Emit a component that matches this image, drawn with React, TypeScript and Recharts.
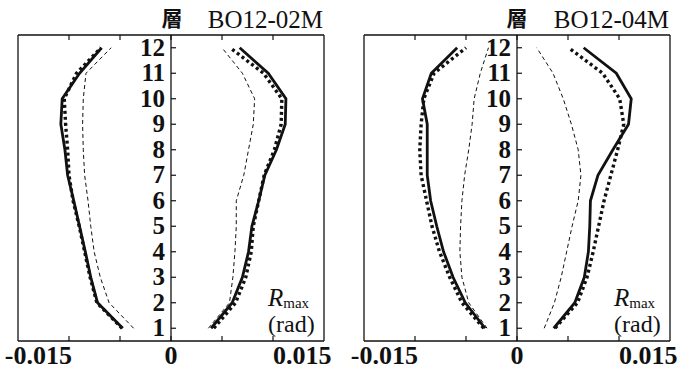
import React from "react";
import { LineChart, Line, XAxis, YAxis, ReferenceLine, ReferenceDot } from "recharts";

// Floors (層)
const floors = [1, 2, 3, 4, 5, 6, 7, 8, 9, 10, 11, 12];
const floorLabels = floors.map(String);

// x-axis ticks (rad)
const xTicks = [-0.015, -0.0075, 0, 0.0075, 0.015];
const xTickLabels = ["-0.015", "", "0", "", "0.015"];

// Panel titles
const panelTitles = ["BO12-02M", "BO12-04M"];

// ---- BO12-02M : values per floor 1..12 (rad) ----
const bo02SolidNeg = [-0.0071, -0.0108, -0.0118, -0.0126, -0.01345, -0.0143, -0.0152, -0.0156, -0.0162, -0.016, -0.01345, -0.0102];
const bo02DottedNeg = [-0.0072, -0.0109, -0.0119, -0.0127, -0.0135, -0.0144, -0.015, -0.0152, -0.0155, -0.0157, -0.0139, -0.0103];
const bo02DashedNeg = [-0.0055, -0.0091, -0.0104, -0.0113, -0.0118, -0.0122, -0.0127, -0.0129, -0.013, -0.0129, -0.0125, -0.0088];
const bo02SolidPos = [0.0059, 0.009, 0.0105, 0.0114, 0.0119, 0.0129, 0.0138, 0.0155, 0.0168, 0.0169, 0.0143, 0.0101];
const bo02DottedPos = [0.0063, 0.0095, 0.011, 0.0118, 0.0121, 0.0129, 0.0137, 0.0152, 0.0162, 0.0163, 0.0136, 0.0087];
const bo02DashedPos = [0.0055, 0.0086, 0.0091, 0.0094, 0.0096, 0.0096, 0.0107, 0.0114, 0.0121, 0.0123, 0.0105, 0.0075];

// ---- BO12-04M ----
const bo04SolidNeg = [-0.0047, -0.0076, -0.0094, -0.0108, -0.0118, -0.0127, -0.0132, -0.0132, -0.0132, -0.0139, -0.0126, -0.0088];
const bo04DottedNeg = [-0.0049, -0.0081, -0.0099, -0.0114, -0.0125, -0.0133, -0.0141, -0.0143, -0.0141, -0.0137, -0.0122, -0.0075];
const bo04DashedNeg = [-0.0044, -0.0071, -0.0081, -0.0084, -0.0083, -0.0081, -0.0077, -0.0071, -0.0066, -0.0063, -0.0054, -0.0042];
const bo04SolidPos = [0.0054, 0.0085, 0.0099, 0.0105, 0.0107, 0.0108, 0.0119, 0.0141, 0.0164, 0.0168, 0.0146, 0.0098];
const bo04DottedPos = [0.0056, 0.0089, 0.0103, 0.0112, 0.012, 0.0128, 0.0138, 0.0148, 0.0157, 0.0151, 0.0126, 0.0076];
const bo04DashedPos = [0.004, 0.0055, 0.0065, 0.0073, 0.0081, 0.009, 0.0094, 0.009, 0.008, 0.0068, 0.0053, 0.0029];

type SeriesSet = { [k: string]: number[] };

const panelSeries: SeriesSet[] = [
  {
    solidNeg: bo02SolidNeg, solidPos: bo02SolidPos,
    dottedNeg: bo02DottedNeg, dottedPos: bo02DottedPos,
    dashedNeg: bo02DashedNeg, dashedPos: bo02DashedPos,
  },
  {
    solidNeg: bo04SolidNeg, solidPos: bo04SolidPos,
    dottedNeg: bo04DottedNeg, dottedPos: bo04DottedPos,
    dashedNeg: bo04DashedNeg, dashedPos: bo04DashedPos,
  },
];

function buildRows(s: SeriesSet) {
  return floors.map((f, i) => {
    const row: any = { floor: f };
    Object.keys(s).forEach((k) => (row[k] = s[k][i]));
    return row;
  });
}

const X_DOMAIN: [number, number] = [-0.0225, 0.0225];
const Y_DOMAIN: [number, number] = [0.5, 12.5];
const INK = "#111";
const SERIF = "'Liberation Serif', 'Times New Roman', serif";

const lineStyles: { [k: string]: any } = {
  solid: { strokeWidth: 2.8 },
  dotted: { strokeWidth: 3.4, strokeDasharray: "3 3" },
  dashed: { strokeWidth: 1, strokeDasharray: "4 3" },
};

const BottomTick = (props: any) => {
  const { x, y, payload, index } = props;
  const v = payload.value;
  const label = xTickLabels[index] ?? "";
  const anchor = v < -1e-9 ? "end" : v > 1e-9 ? "start" : "middle";
  const tx = v < -1e-9 ? x + 3 : x;
  return (
    <g>
      <line x1={x} y1={y} x2={x} y2={y - 5} stroke={INK} strokeWidth={1.2} />
      {label && (
        <text x={tx} y={y + 23} textAnchor={anchor} fontFamily={SERIF} fontWeight="bold" fontSize={26} fill={INK}>
          {label}
        </text>
      )}
    </g>
  );
};

const TopTick = (props: any) => {
  const { x, y } = props;
  return <line x1={x} y1={y} x2={x} y2={y + 5} stroke={INK} strokeWidth={1.2} />;
};

const FloorMark = (props: any) => {
  const { cx, cy, label } = props;
  return (
    <g>
      <line x1={cx} y1={cy} x2={cx + 5} y2={cy} stroke={INK} strokeWidth={1.2} />
      <text x={cx - 6} y={cy + 8} textAnchor="end" fontFamily={SERIF} fontWeight="bold" fontSize={25} fill={INK}>
        {label}
      </text>
    </g>
  );
};

function Panel({ index, width, marginRight }: { index: number; width: number; marginRight: number }) {
  const rows = buildRows(panelSeries[index]);
  const keys = ["dashedNeg", "dashedPos", "dottedNeg", "dottedPos", "solidNeg", "solidPos"];
  return (
    <LineChart
      width={width}
      height={372}
      data={rows}
      layout="vertical"
      margin={{ top: 34, right: marginRight, bottom: 30, left: 17 }}
    >
      <XAxis
        xAxisId="top"
        orientation="top"
        type="number"
        domain={X_DOMAIN}
        allowDataOverflow
        ticks={xTicks}
        interval={0}
        height={1}
        tickSize={0}
        tickMargin={0}
        tickLine={false}
        tick={<TopTick />}
        axisLine={{ stroke: INK, strokeWidth: 1.3 }}
      />
      <XAxis
        orientation="bottom"
        type="number"
        domain={X_DOMAIN}
        allowDataOverflow
        ticks={xTicks}
        interval={0}
        height={1}
        tickSize={0}
        tickMargin={0}
        tickLine={false}
        tick={<BottomTick />}
        axisLine={{ stroke: INK, strokeWidth: 1.3 }}
      />
      <YAxis
        type="number"
        dataKey="floor"
        domain={Y_DOMAIN}
        allowDataOverflow
        reversed
        width={1}
        tick={false}
        tickLine={false}
        axisLine={{ stroke: INK, strokeWidth: 1.3 }}
      />
      <YAxis
        yAxisId="r"
        orientation="right"
        type="number"
        dataKey="floor"
        domain={Y_DOMAIN}
        allowDataOverflow
        reversed
        width={1}
        tick={false}
        tickLine={false}
        axisLine={{ stroke: INK, strokeWidth: 1.3 }}
      />
      <ReferenceLine x={0} stroke={INK} strokeWidth={1.3} />
      {floors.map((f, i) => (
        <ReferenceDot
          key={f}
          x={0}
          y={f}
          r={0}
          shape={(p: any) => <FloorMark {...p} label={floorLabels[i]} />}
        />
      ))}
      {keys.map((k) => (
        <Line
          key={k}
          dataKey={k}
          type="linear"
          stroke={INK}
          dot={false}
          activeDot={false}
          isAnimationActive={false}
          {...lineStyles[k.replace(/Neg|Pos/, "")]}
        />
      ))}
    </LineChart>
  );
}

function Labels({ zeroX, rightX, title }: { zeroX: number; rightX: number; title: string }) {
  return (
    <g>
      <text x={zeroX} y={26} textAnchor="middle" fontFamily="'Noto Sans CJK JP', 'Noto Sans CJK SC', sans-serif" fontWeight="bold" fontSize={21} fill={INK}>
        層
      </text>
      <text x={rightX - 1} y={27.5} textAnchor="end" fontFamily={SERIF} fontSize={25} fill={INK}>
        {title}
      </text>
      <text x={rightX - 56} y={305.5} fontFamily={SERIF} fill={INK}>
        <tspan fontStyle="italic" fontSize={25}>R</tspan>
        <tspan fontSize={15} dy={2}>max</tspan>
      </text>
      <text x={rightX - 56} y={331.5} fontFamily={SERIF} fontSize={24} fill={INK}>
        (rad)
      </text>
    </g>
  );
}

export default function App() {
  return (
    <div style={{ position: "absolute", left: 0, top: 0, width: 678, height: 372, background: "#fff", overflow: "hidden" }}>
      <div style={{ position: "absolute", left: 0, top: 0 }}>
        <Panel index={0} width={339} marginRight={14} />
      </div>
      <div style={{ position: "absolute", left: 346, top: 0 }}>
        <Panel index={1} width={332} marginRight={7} />
      </div>
      <svg width={678} height={372} style={{ position: "absolute", left: 0, top: 0, pointerEvents: "none" }}>
        <Labels zeroX={172} rightX={324} title={panelTitles[0]} />
        <Labels zeroX={517} rightX={670} title={panelTitles[1]} />
      </svg>
    </div>
  );
}
